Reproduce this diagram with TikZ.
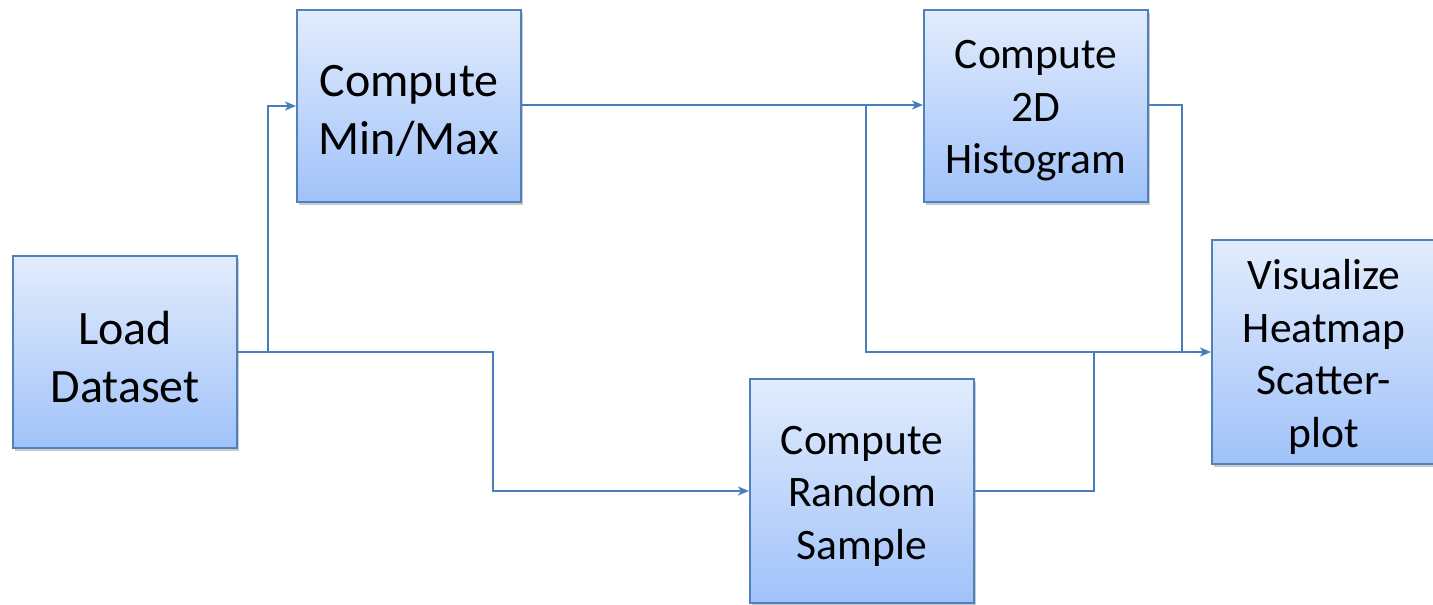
\documentclass[tikz,border=0pt]{standalone}
\usepackage{fontspec}
\setmainfont{Carlito}
\usetikzlibrary{arrows.meta,shadows}
\definecolor{boxtop}{RGB}{226,236,253}
\definecolor{boxbot}{RGB}{160,194,249}
\definecolor{boxline}{RGB}{79,129,189}
\definecolor{wire}{RGB}{74,126,187}
\newcommand{\bxtext}[1]{\raisebox{-5pt}[\height][\depth]{\parbox{220pt}{\centering #1}}}
\tikzset{
  stepbox/.style={draw=boxline, line width=2pt, top color=boxtop, bottom color=boxbot,
    minimum width=224pt, minimum height=192pt, inner sep=0pt, align=center, text=black,
    drop shadow={shadow xshift=2pt, shadow yshift=-3pt, opacity=0.35, fill=black!60}},
  bigtext/.style={font=\fontsize{48}{57.5}\selectfont},
  smalltext/.style={font=\fontsize{43.5}{52.5}\selectfont},
  wireline/.style={draw=wire, line width=2pt},
  arr/.style={wireline, -{Stealth[length=11pt,width=9pt,inset=3pt]}}
}
\begin{document}
\begin{tikzpicture}[x=1pt,y=-1pt]
\useasboundingbox (0,0) rectangle (1433,605);
\node[stepbox,bigtext] (load) at (125,352) {\bxtext{Load\\Dataset}};
\node[stepbox,bigtext] (minmax) at (409,106) {\bxtext{Compute\\Min/Max}};
\node[stepbox,smalltext] (hist) at (1036,106) {\bxtext{Compute\\2D\\Histogram}};
\node[stepbox,smalltext,minimum height=224pt] (rand) at (862,491) {\bxtext{Compute\\Random\\Sample}};
\node[stepbox,smalltext,minimum height=224pt] (vis) at (1324,352) {\bxtext{Visualize\\Heatmap\\Scatter-\\plot}};
\coordinate (j1) at (268,352);
\coordinate (j2) at (493,352);
\coordinate (j3) at (866,105);
\coordinate (j4) at (1182,352);
\coordinate (j5) at (1094,352);
\draw[arr] (load.east |- j1) -- (j1) |- (minmax.west);
\draw[arr] (j1) -- (j2) |- (rand.west);
\draw[arr] (minmax.east |- j3) -- (hist.west |- j3);
\draw[arr] (j3) |- (vis.west |- j4);
\draw[wireline] (hist.east |- j3) -| (j4);
\draw[wireline] (rand.east) -| (j5);
\end{tikzpicture}
\end{document}
